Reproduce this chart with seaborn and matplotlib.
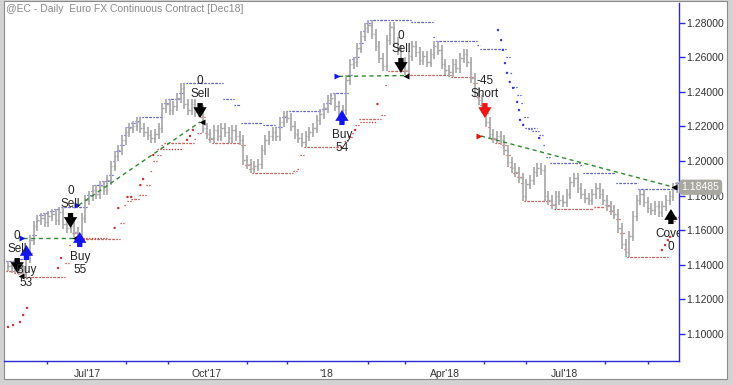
import numpy as np
import pandas as pd
import matplotlib
matplotlib.use("Agg")
import matplotlib.pyplot as plt
from matplotlib import transforms
from matplotlib.patches import Rectangle
import seaborn as sns

# ---------------- data ----------------
title = "@EC - Daily  Euro FX Continuous Contract [Dec18]"
start_date = "2017-05-03"
bar_step = 2          # trading days per drawn bar
last_price = 1.18485

closes = [
    1.1393, 1.1381, 1.1404, 1.1370, 1.1358, 1.1439, 1.1543, 1.1624, 1.1659, 1.1670,
    1.1647, 1.1682, 1.1694, 1.1659, 1.1705, 1.1636, 1.1613, 1.1624, 1.1589, 1.1578,
    1.1670, 1.1775, 1.1798, 1.1833, 1.1809, 1.1856, 1.1833, 1.1890, 1.1971, 1.2029,
    1.2064, 1.2122, 1.2168, 1.2191, 1.2203, 1.2226, 1.2191, 1.2168, 1.2151, 1.2133,
    1.2156, 1.2191, 1.2307, 1.2330, 1.2295, 1.2319, 1.2365, 1.2423, 1.2330, 1.2295,
    1.2330, 1.2284, 1.2295, 1.2191, 1.2156, 1.2133, 1.2180, 1.2145, 1.2191, 1.2168,
    1.2133, 1.2180, 1.2145, 1.2122, 1.2006, 1.1983, 1.1960, 1.1971, 1.1983, 1.2064,
    1.2122, 1.2145, 1.2168, 1.2145, 1.2226, 1.2261, 1.2249, 1.2203, 1.2156, 1.2133,
    1.2110, 1.2145, 1.2168, 1.2191, 1.2238, 1.2272, 1.2307, 1.2353, 1.2365, 1.2319,
    1.2272, 1.2295, 1.2469, 1.2562, 1.2573, 1.2654, 1.2724, 1.2770, 1.2790, 1.2735,
    1.2666, 1.2596, 1.2550, 1.2700, 1.2775, 1.2689, 1.2643, 1.2573, 1.2527, 1.2608,
    1.2666, 1.2631, 1.2585, 1.2608, 1.2573, 1.2619, 1.2666, 1.2643, 1.2562, 1.2527,
    1.2515, 1.2562, 1.2538, 1.2596, 1.2619, 1.2573, 1.2481, 1.2400, 1.2353, 1.2307,
    1.2226, 1.2156, 1.2133, 1.2145, 1.2122, 1.2064, 1.1995, 1.1960, 1.1937, 1.1902,
    1.1798, 1.1867, 1.1890, 1.1937, 1.1960, 1.1948, 1.1798, 1.1775, 1.1751, 1.1798,
    1.1775, 1.1763, 1.1809, 1.1879, 1.1902, 1.1844, 1.1809, 1.1786, 1.1775, 1.1809,
    1.1844, 1.1809, 1.1775, 1.1740, 1.1717, 1.1694, 1.1613, 1.1520, 1.1474, 1.1566,
    1.1682, 1.1775, 1.1809, 1.1763, 1.1728, 1.1717, 1.1740, 1.1705, 1.1740, 1.1775,
    1.1798, 1.1844, 1.1849,
]

# trade signals (x = trading-day number from start_date)
sig_day = [5, 10, 34, 39, 104.5, 181.7, 213.8, 259.5, 360.7]
sig_price = [1.1398, 1.1468, 1.1659, 1.1543, 1.2295, 1.2249, 1.2556, 1.2295, 1.1676]
sig_kind = ["sell", "buy", "sell", "buy", "sell", "buy", "sell", "short", "cover"]
sig_label = ["0\nSell", "Buy\n53", "0\nSell", "Buy\n55", "0\nSell", "Buy\n54",
             "0\nSell", "-45\nShort", "Cover\n0"]

# trades (entry -> exit)
entry_day = [8.2, 38.5, 180.0, 257.3]
entry_price = [1.1555, 1.1745, 1.2490, 1.2145]
entry_side = ["long", "long", "long", "short"]
exit_day = [6.5, 35.4, 104.5, 215.5, 361.8]
exit_price = [1.1335, 1.1555, 1.2226, 1.2495, 1.1850]

# trailing stop dots
stop_day = [0, 2.7, 6.5, 8.2, 10.3, 27.2, 28.8, 58, 60, 65, 67, 72, 73.5, 79,
            97.4, 99, 100.6, 186, 188.8, 201, 355.8, 357.5, 359, 360.2,
            266.6, 268.3, 269.3, 270.4, 271.5, 273, 274.8, 277, 278, 278.6, 280.3, 289]
stop_price = [1.1040, 1.1051, 1.1069, 1.1109, 1.1150, 1.1381, 1.1439, 1.1613, 1.1728,
              1.1792, 1.1792, 1.1861, 1.1896, 1.2035, 1.2122, 1.2145, 1.2180, 1.2139,
              1.2180, 1.2330, 1.1485, 1.1514, 1.1543, 1.1561,
              1.2758, 1.2700, 1.2643, 1.2567, 1.2510, 1.2458, 1.2423, 1.2342, 1.2295,
              1.2238, 1.2209, 1.2133]
stop_side = ["long"] * 24 + ["short"] * 12

# flat stop segments
flat_start = [39, 81, 191.5, 281.4]
flat_end = [54, 95, 200.8, 288]
flat_price = [1.1555, 1.2070, 1.2226, 1.2191]
flat_side = ["long", "long", "long", "short"]

# ---------------- style ----------------
W, H = 733, 385
sns.set_theme(style="white")
plt.rcParams["font.family"] = ["Liberation Sans", "DejaVu Sans"]

BLUE_AX = "#2a2ad6"
BAR = "#a6a6a6"
UPC = "#3434d4"
LOWC = "#cc2e2e"
GREEN = "#2f8a2f"

fig = plt.figure(figsize=(W / 100, H / 100), dpi=100)
fig.patch.set_facecolor("#d2d2d2")
fig.add_artist(Rectangle((4 / W, 6 / H), (727 - 4) / W, (384 - 6) / H,
                         transform=fig.transFigure, fc="white", ec="#8c8c8c",
                         lw=0.8, zorder=0))

ax = fig.add_axes([4 / W, (H - 361) / H, (679 - 4) / W, (361 - 3) / H])
ax.set_facecolor("none")

n = len(closes)
t = np.arange(n) * bar_step
c = np.array(closes)
o = np.r_[c[0], c[:-1]]
pad = 0.0029
hi = np.maximum(o, c) + pad
lo = np.minimum(o, c) - pad

# channels (highest high / lowest low of last 10 bars)
up = pd.Series(hi).rolling(10, min_periods=1).max().shift(1).bfill().values
dn = pd.Series(lo).rolling(10, min_periods=1).min().shift(1).bfill().values
ax.hlines(up, t - 1, t + 1, colors=UPC, linestyles=(0, (1, 1.3)), lw=0.9, zorder=2)
ax.hlines(dn, t - 1, t + 1, colors=LOWC, linestyles=(0, (1, 1.3)), lw=0.9, zorder=2)

# flat stop segments
for a, b, p, s in zip(flat_start, flat_end, flat_price, flat_side):
    ax.hlines(p, a, b, colors=LOWC if s == "long" else UPC,
              linestyles=(0, (1, 1.3)), lw=0.9, zorder=2)

# OHLC bars
ax.vlines(t, lo, hi, colors=BAR, lw=1.2, zorder=3)
ax.hlines(o, t - 0.8, t, colors=BAR, lw=1.0, zorder=3)
ax.hlines(c, t, t + 0.8, colors=BAR, lw=1.0, zorder=3)

# stop dots
stops = pd.DataFrame({"day": stop_day, "price": stop_price, "side": stop_side})
sns.scatterplot(data=stops, x="day", y="price", hue="side",
                palette={"long": LOWC, "short": UPC}, s=3, linewidth=0,
                legend=False, ax=ax, zorder=4)

# trade lines
rows = []
for k, (a, pa, b, pb) in enumerate(zip(entry_day, entry_price, exit_day[1:], exit_price[1:])):
    rows += [{"trade": k, "day": a, "price": pa}, {"trade": k, "day": b, "price": pb}]
trades = pd.DataFrame(rows)
sns.lineplot(data=trades, x="day", y="price", units="trade", estimator=None,
             color=GREEN, lw=1.0, ax=ax, zorder=5, sort=False)
for line in ax.lines:
    line.set_linestyle((0, (3, 2.5)))

# entry / exit triangles
for d, p, s in zip(entry_day, entry_price, entry_side):
    ax.plot(d - 0.8, p, marker=">", ms=5, color="#1414e6" if s == "long" else "#ee1111",
            mec="none", zorder=6, ls="none")
for d, p in zip(exit_day, exit_price):
    ax.plot(d + 0.8, p, marker="<", ms=5, color="black", mec="none", zorder=6, ls="none")

# signal arrows and labels
arrow_col = {"buy": "#1414f0", "sell": "black", "short": "#f01414", "cover": "black"}
for d, p, k, lab in zip(sig_day, sig_price, sig_kind, sig_label):
    down = k in ("sell", "short")
    tip = transforms.offset_copy(ax.transData, fig=fig, x=0, y=(-8 if down else 8), units="dots")
    tail = transforms.offset_copy(ax.transData, fig=fig, x=0, y=(7 if down else -7), units="dots")
    ax.annotate("", xy=(d, p), xycoords=tip, xytext=(d, p), textcoords=tail,
                arrowprops=dict(arrowstyle="simple,head_width=0.8,head_length=0.65,tail_width=0.32",
                                color=arrow_col[k], lw=0, shrinkA=0, shrinkB=0),
                zorder=7)
    txt = ax.annotate(lab, xy=(d, p), xytext=(0, 10 if down else -11),
                      textcoords="offset pixels", ha="center",
                      va="bottom" if down else "top", fontsize=8.5, color="#222222",
                      linespacing=1.15, zorder=8, annotation_clip=False)
    txt.set_clip_on(True)
    txt.set_clip_box(ax.bbox)

# ---------------- axes ----------------
ax.set_xlim(-2.2, 365.1)
ax.set_ylim(1.08429, 1.29146)

days = pd.bdate_range(start_date, periods=n * bar_step)
major, minor, labels = [], [], []
for k in range(1, len(days)):
    if days[k].month != days[k - 1].month:
        if days[k].month in (1, 4, 7, 10):
            major.append(k)
            labels.append("'%02d" % (days[k].year % 100) if days[k].month == 1
                          else days[k].strftime("%b") + "'%02d" % (days[k].year % 100))
        else:
            minor.append(k)
ax.set_xticks(major)
ax.set_xticklabels(labels)
ax.set_xticks(minor, minor=True)

yt = [1.10, 1.12, 1.14, 1.16, 1.18, 1.20, 1.22, 1.24, 1.26, 1.28]
ax.yaxis.tick_right()
ax.set_yticks(yt)
ax.set_yticklabels(["%.5f" % v for v in yt])

for s in ("left", "top"):
    ax.spines[s].set_visible(False)
for s in ("right", "bottom"):
    ax.spines[s].set_visible(True)
    ax.spines[s].set_color(BLUE_AX)
    ax.spines[s].set_linewidth(1.0)

ax.tick_params(axis="y", which="major", direction="out", length=4, width=1,
               color=BLUE_AX, labelcolor="#333333", labelsize=7.5, pad=1.5,
               left=False, right=True)
ax.tick_params(axis="x", which="major", direction="out", length=5, width=1,
               color=BLUE_AX, labelcolor="#333333", labelsize=7.5, pad=0.5)
ax.tick_params(axis="x", which="minor", direction="out", length=2.5, width=1,
               color=BLUE_AX, bottom=True)
ax.set_xlabel("")
ax.set_ylabel("")
ax.grid(False)

# last price box
ax.text(1.004, last_price, "%.5f" % last_price,
        transform=transforms.blended_transform_factory(ax.transAxes, ax.transData),
        ha="left", va="center", fontsize=7.5, color="white", zorder=9,
        bbox=dict(boxstyle="round,pad=0.25,rounding_size=0.3", fc="#a8a8a0", ec="none"),
        clip_on=False)

fig.text(6 / W, 1 - 9 / H, title, ha="left", va="center", fontsize=7.5, color="#8a8a8a")

fig.savefig("out.png", dpi=100, facecolor=fig.get_facecolor())
